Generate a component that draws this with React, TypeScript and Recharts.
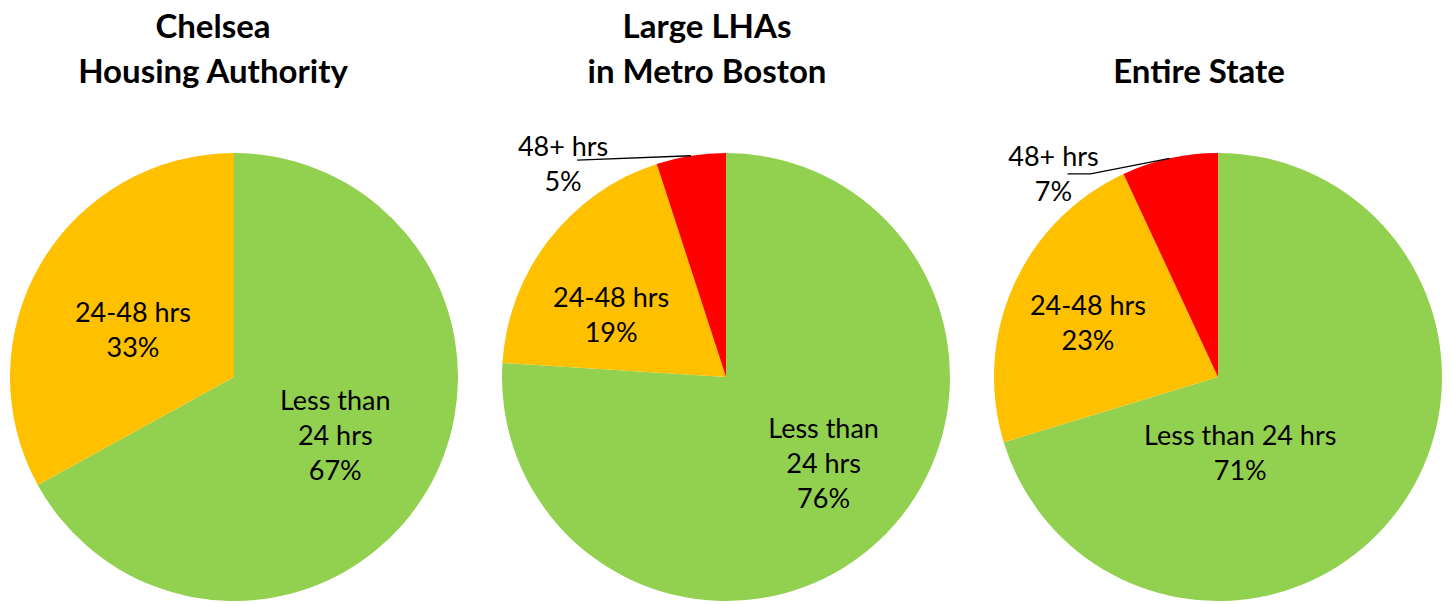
import { PieChart, Pie, Cell } from 'recharts';

const categories = ['Less than 24 hrs', '24-48 hrs', '48+ hrs'];
const colors = ['#92D050', '#FFC000', '#FF0000'];

const chelseaValues = [67, 33];
const metroValues = [76, 19, 5];
const stateValues = [71, 23, 7];

// how each chart's labels break into lines (Excel wrapped them differently)
const wrapTwoLines = [['Less than', '24 hrs'], ['24-48 hrs'], ['48+ hrs']];
const wrapOneLine = [['Less than 24 hrs'], ['24-48 hrs'], ['48+ hrs']];

const W = 1452;
const H = 604;
const R = 224;
const CY = 377;
const FONT = 'Lato, "Open Sans", sans-serif';
const RAD = Math.PI / 180;

type Place = { shift: number; r: number; leader?: number[][] };

const charts = [
  {
    title: ['Chelsea', 'Housing Authority'],
    titleX: 213,
    cx: 234,
    values: chelseaValues,
    wrap: wrapTwoLines,
    place: [{ shift: -1, r: 0.52 }, { shift: -5, r: 0.5 }] as Place[]
  },
  {
    title: ['Large LHAs', 'in Metro Boston'],
    titleX: 707,
    cx: 726,
    values: metroValues,
    wrap: wrapTwoLines,
    place: [
      { shift: -5.5, r: 0.58 },
      { shift: -9, r: 0.585 },
      { shift: -28.3, r: 1.2, leader: [[14, -3]] }
    ] as Place[]
  },
  {
    title: ['', 'Entire State'],
    titleX: 1199,
    cx: 1218,
    values: stateValues,
    wrap: wrapOneLine,
    place: [
      { shift: 37, r: 0.35 },
      { shift: -1.2, r: 0.63 },
      { shift: -26.4, r: 1.17, leader: [[14, 1], [37, 1]] }
    ] as Place[]
  }
];

const makeLabel = (wrap: string[][], place: Place[]) => (props: any) => {
  const { cx, cy, midAngle, outerRadius, index, value } = props;
  const p = place[index];
  // clockwise-from-top angle of the slice middle, nudged like the original
  const a = (90 - midAngle + p.shift) * RAD;
  const x = cx + Math.sin(a) * outerRadius * p.r;
  const y = cy - Math.cos(a) * outerRadius * p.r;
  const lines = [...wrap[index], `${value}%`];
  const lh = 35;
  let leader = null;
  if (p.leader) {
    const m = (90 - midAngle) * RAD;
    const ex = cx + Math.sin(m) * outerRadius;
    const ey = cy - Math.cos(m) * outerRadius;
    const pts = p.leader.map(([dx, dy]) => `${x + dx},${y + dy}`).concat(`${ex},${ey}`);
    leader = <polyline points={pts.join(' ')} fill="none" stroke="#000" strokeWidth={1.3} />;
  }
  return (
    <g key={`lbl-${index}`}>
      {leader}
      {lines.map((t, i) => (
        <text
          key={i}
          x={x}
          y={y + (i - (lines.length - 1) / 2) * lh}
          textAnchor="middle"
          dominantBaseline="central"
          fontFamily={FONT}
          fontSize={27}
          fill="#000"
        >
          {t}
        </text>
      ))}
    </g>
  );
};

export default function App() {
  return (
    <div style={{ position: 'absolute', left: 0, top: 0, width: W, height: H, background: '#fff' }}>
      <PieChart width={W} height={H} margin={{ top: 0, right: 0, bottom: 0, left: 0 }}>
        {charts.map((c, ci) => (
          <Pie
            key={ci}
            data={c.values.map((v, i) => ({ name: categories[i], value: v }))}
            dataKey="value"
            cx={c.cx}
            cy={CY}
            outerRadius={R}
            startAngle={90}
            endAngle={-270}
            stroke="none"
            labelLine={false}
            label={makeLabel(c.wrap, c.place)}
            isAnimationActive={false}
          >
            {c.values.map((_, i) => (
              <Cell key={i} fill={colors[i]} />
            ))}
          </Pie>
        ))}
      </PieChart>
      {charts.map((c, ci) =>
        c.title.map((t, li) => (
          <div
            key={`${ci}-${li}`}
            style={{
              position: 'absolute',
              left: c.titleX - 200,
              width: 400,
              top: (li === 0 ? 26 : 71) - 21,
              height: 40,
              lineHeight: '40px',
              textAlign: 'center',
              fontFamily: FONT,
              fontWeight: 700,
              fontSize: 33,
              color: '#000'
            }}
          >
            {t}
          </div>
        ))
      )}
    </div>
  );
}
